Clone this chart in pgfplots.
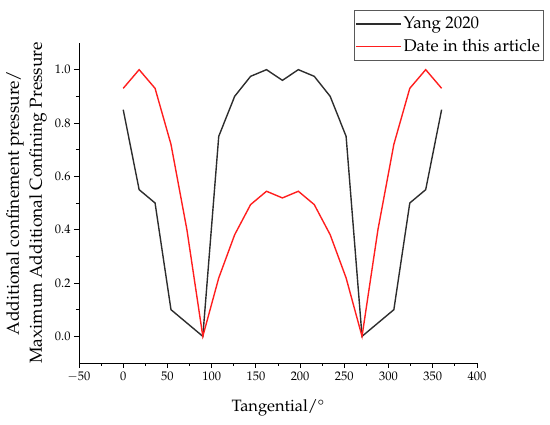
\documentclass[border=0pt]{standalone}
\usepackage[T1]{fontenc}
\usepackage{mathpazo}
\usepackage{pgfplots}
\pgfplotsset{compat=1.18}
\definecolor{darkline}{RGB}{45,45,45}
\definecolor{redline}{RGB}{255,30,30}
\begin{document}
\begin{tikzpicture}
\begin{axis}[
  scale only axis,
  width=398bp, height=320bp,
  xmin=-50, xmax=400, ymin=-0.1, ymax=1.1,
  axis lines=left,
  axis line style={-, line width=0.9pt},
  xtick={-50,0,50,...,400},
  ytick={0,0.2,0.4,0.6,0.8,1.0},
  minor x tick num=1, minor y tick num=1,
  tick align=outside,
  major tick length=5bp, minor tick length=3bp,
  tick style={line width=0.8pt, black},
  yticklabel style={/pgf/number format/.cd, fixed, fixed zerofill, precision=1},
  ticklabel style={font=\fontsize{12.5}{14}\selectfont},
  xlabel={Tangential/\textdegree},
  ylabel={Additional confinement pressure/\\Maximum Additional Confining Pressure},
  xlabel style={font=\fontsize{16.5}{20}\selectfont, at={(axis description cs:0.5,-0.14)}, anchor=center},
  ylabel style={font=\fontsize{17.5}{23}\selectfont, at={(axis description cs:-0.132,0.5)}, anchor=center, align=center},
  legend style={at={(axis description cs:0.691,1.103)}, anchor=north west,
    draw=black!65, font=\fontsize{17}{20}\selectfont,
    inner xsep=1bp, inner ysep=3bp, row sep=1bp,
    nodes={inner xsep=2bp, inner ysep=4bp}},
  legend cell align=left,
  legend image code/.code={\draw[#1] (0bp,0bp) -- (45bp,0bp);},
]
\addplot[color=darkline, line width=1.4pt] coordinates {
(0,0.85) (18,0.55) (36,0.50) (54,0.10) (72,0.05) (90,0.0)
(108,0.75) (126,0.90) (144,0.975) (162,1.0) (180,0.96) (198,1.0)
(216,0.975) (234,0.90) (252,0.75) (270,0.0) (288,0.05) (306,0.10)
(324,0.50) (342,0.55) (360,0.85)};
\addlegendentry{Yang 2020}
\addplot[color=redline, line width=1.4pt] coordinates {
(0,0.93) (18,1.0) (36,0.93) (54,0.72) (72,0.40) (90,0.0)
(108,0.219) (126,0.381) (144,0.494) (162,0.544) (180,0.519) (198,0.544)
(216,0.494) (234,0.381) (252,0.219) (270,0.0) (288,0.40) (306,0.72)
(324,0.93) (342,1.0) (360,0.93)};
\addlegendentry{Date in this article}
\end{axis}
\path (current axis.south west) ++(-79bp,-62bp) rectangle ++(550bp,425bp);
\end{tikzpicture}
\end{document}
